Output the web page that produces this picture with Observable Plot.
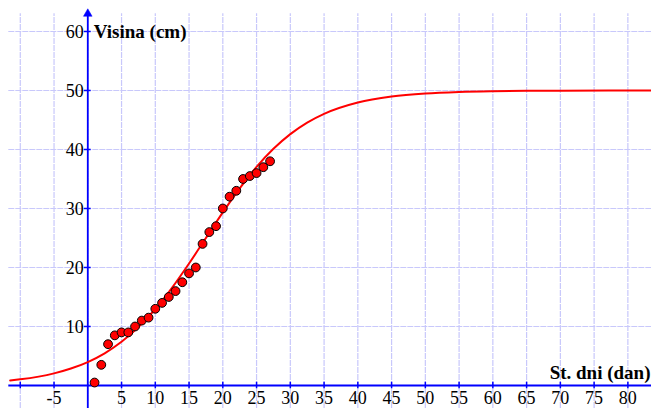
<!DOCTYPE html>
<html>
<head>
<meta charset="utf-8">
<script src="https://cdn.jsdelivr.net/npm/d3@7"></script>
<script src="https://cdn.jsdelivr.net/npm/@observablehq/plot@0.6"></script>
<style>
  html, body { margin: 0; padding: 0; background: #fff; }
  #chart svg { display: block; }
  #chart svg, #chart svg text { font-family: "Liberation Serif", "Times New Roman", serif !important; }
</style>
</head>
<body>
<div id="chart"></div>
<script>
// Measured data points (day, height in cm)
const days = [1,2,3,4,5,6,7,8,9,10,11,12,13,14,15,16,17,18,19,20,21,22,23,24,25,26,27];
const heights = [0.5,3.5,7,8.5,9,9,10,11,11.5,13,14,15,16,17.5,19,20,24,26,27,30,32,33,35,35.5,36,37,38];

// Fitted logistic curve
const curveX = [-11.5,-10,-5,-2.5,0,2.5,5,7.5,10,12.5,15,17.5,20,22.5,25,27.5,30,32.5,35,40,45,50,55,60,65,70,83.5];
const curveY = [0.85,1.04,2.05,2.87,3.97,5.45,7.40,9.89,12.96,16.59,20.67,25,29.33,33.41,37.04,40.11,42.60,44.55,46.03,47.95,48.96,49.48,49.74,49.87,49.94,49.97,50.0];

// Axes / grid
const xTicks = [-10,-5,0,5,10,15,20,25,30,35,40,45,50,55,60,65,70,75,80];
const xTickLabels = [-5,5,10,15,20,25,30,35,40,45,50,55,60,65,70,75,80];
const yTicks = [10,20,30,40,50,60];
const yTickLabels = [10,20,30,40,50,60];
const xTitle = "St. dni (dan)";
const yTitle = "Visina (cm)";

const xMin = -12.93, xMax = 83.5, yMin = -3.9, yMax = 65.25;
const gridLeft = -11.7, gridTop = 63;

const points = days.map((d, i) => ({day: d, h: heights[i]}));
const curve = curveX.map((x, i) => ({x, y: curveY[i]}));

const blue = "#0000ff";
const gridColor = "#c8c8fb";
const font = "'Liberation Serif', 'Times New Roman', serif";

const chart = Plot.plot({
  width: 651,
  height: 408,
  margin: 0,
  style: {fontFamily: font, background: "#fff"},
  x: {domain: [xMin, xMax], axis: null},
  y: {domain: [yMin, yMax], axis: null},
  marks: [
    // grid
    Plot.ruleX(xTicks, {x: d => d, y1: yMin, y2: gridTop, stroke: gridColor, strokeWidth: 1.2, strokeDasharray: "6,1"}),
    Plot.ruleY(yTicks, {y: d => d, x1: gridLeft, x2: xMax, stroke: gridColor, strokeWidth: 1.2, strokeDasharray: "6,1"}),
    // axes
    Plot.ruleY([0], {x1: gridLeft, x2: xMax, stroke: blue, strokeWidth: 1.8}),
    Plot.ruleX([0], {y1: yMin, y2: gridTop, stroke: blue, strokeWidth: 1.8}),
    Plot.dot([0], {x: d => d, y: gridTop, symbol: "triangle", r: 3.2, fill: blue, stroke: blue, strokeWidth: 0.5}),
    // ticks
    Plot.ruleX(xTicks.filter(d => d !== 0), {x: d => d, y1: -0.55, y2: 0.55, stroke: blue, strokeWidth: 1.5}),
    Plot.ruleY(yTicks, {y: d => d, x1: -0.5, x2: 0.5, stroke: blue, strokeWidth: 1.5}),
    // tick labels
    Plot.text(xTickLabels, {x: d => d, y: 0, text: d => String(d), dy: 13, fontSize: 18, fontFamily: font, fill: "#000"}),
    Plot.text(yTickLabels, {x: 0, y: d => d, text: d => String(d), dx: -4, dy: 1, textAnchor: "end", fontSize: 18, fontFamily: font, fill: "#000"}),
    // axis titles
    Plot.text([yTitle], {x: 0, frameAnchor: "top", text: d => d, dx: 6, dy: 24, textAnchor: "start", fontSize: 19, fontWeight: "bold", fontFamily: font, fill: "#000"}),
    Plot.text([xTitle], {y: 0, frameAnchor: "right", text: d => d, dx: -1, dy: -13, textAnchor: "end", fontSize: 19, fontWeight: "bold", fontFamily: font, fill: "#000"}),
    // logistic curve
    Plot.line(curve, {x: "x", y: "y", curve: "monotone-x", stroke: "#ff0000", strokeWidth: 2}),
    // data points
    Plot.dot(points, {x: "day", y: "h", r: 4.4, fill: "#ff0000", stroke: "#000", strokeWidth: 1})
  ]
});

document.getElementById("chart").appendChild(chart);
</script>
</body>
</html>
